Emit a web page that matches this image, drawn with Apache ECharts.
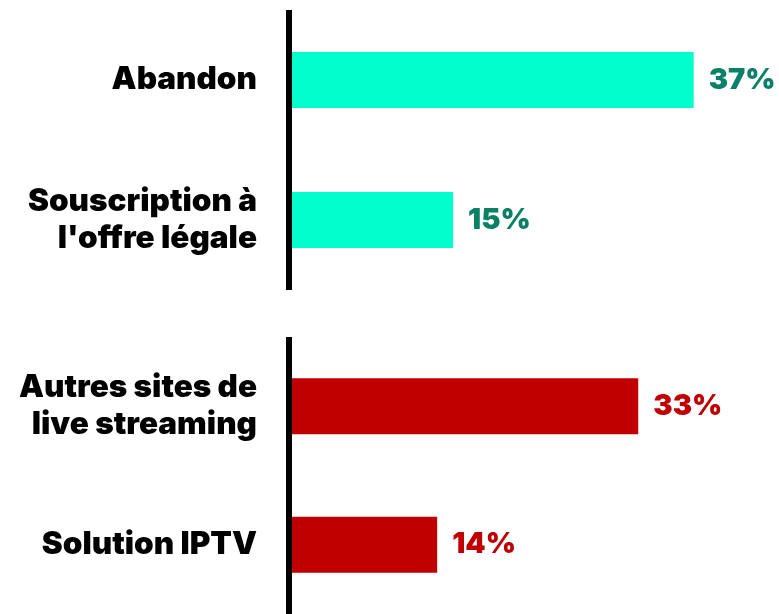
<!DOCTYPE html>
<html>
<head>
<meta charset="utf-8">
<script src="https://cdn.jsdelivr.net/npm/echarts@6/dist/echarts.min.js"></script>
<style>
  html, body { margin: 0; padding: 0; background: #fff; }
  #chart { width: 779px; height: 614px; }
</style>
</head>
<body>
<div id="chart"></div>
<script>
// groupe du haut : issues légales / abandon
var topCategories = ['Abandon', "Souscription à\nl'offre légale"];
var topValues = [37, 15];
// groupe du bas : autres solutions illégales
var bottomCategories = ['Autres sites de\nlive streaming', 'Solution IPTV'];
var bottomValues = [33, 14];

var chart = echarts.init(document.getElementById('chart'));
var font = 'Inter';

function catAxis(gridIndex, data) {
    return {
        type: 'category',
        gridIndex: gridIndex,
        data: data,
        inverse: true,
        offset: 3,
        z: 5,
        axisLine: { lineStyle: { color: '#000', width: 6, cap: 'butt' } },
        axisTick: { show: false },
        axisLabel: {
            margin: 29,
            color: '#000',
            fontFamily: font,
            fontWeight: 900,
            fontSize: 31.5,
            lineHeight: 37,
            align: 'right'
        }
    };
}

function valAxis(gridIndex, max) {
    return {
        type: 'value',
        gridIndex: gridIndex,
        min: 0,
        max: max,
        show: false,
        splitLine: { show: false }
    };
}

function barSeries(idx, values, color, labelColor) {
    return {
        type: 'bar',
        xAxisIndex: idx,
        yAxisIndex: idx,
        data: values,
        barWidth: 56,
        itemStyle: { color: color },
        label: {
            show: true,
            position: 'right',
            distance: 15,
            formatter: '{c}%',
            color: labelColor,
            fontFamily: font,
            fontWeight: 900,
            fontSize: 29
        }
    };
}

var option = {
    animation: false,
    grid: [
        { left: 289, right: 0, top: 10, height: 280 },
        { left: 289, right: 0, top: 337, height: 280 }
    ],
    xAxis: [valAxis(0, 44.8), valAxis(1, 46.3)],
    yAxis: [catAxis(0, topCategories), catAxis(1, bottomCategories)],
    series: [
        barSeries(0, topValues, '#00FFCC', '#0A8066'),
        barSeries(1, bottomValues, '#C00000', '#C00000')
    ]
};

chart.setOption(option);
</script>
</body>
</html>
